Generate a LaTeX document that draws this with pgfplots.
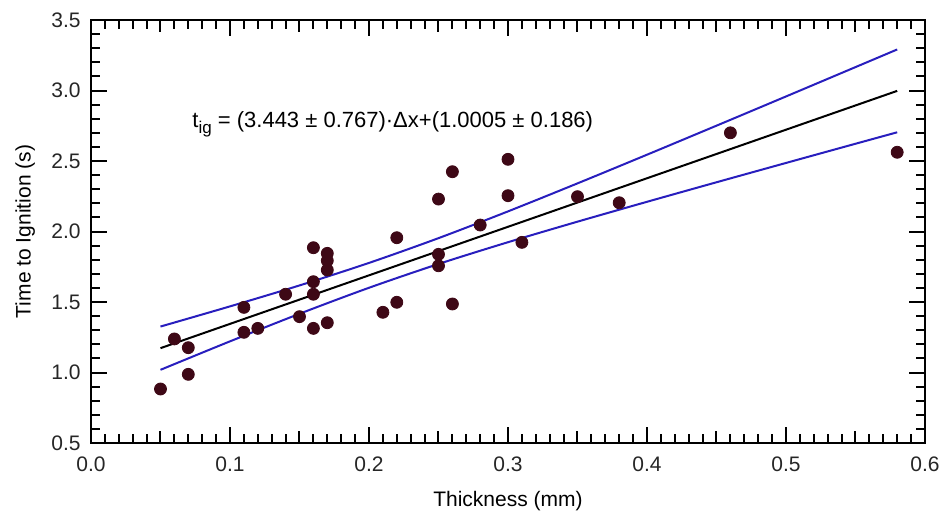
\documentclass[border=0pt]{standalone}
\usepackage{pgfplots}
\pgfplotsset{compat=1.18}
\usepackage{fontspec}
\setmainfont{Liberation Sans}
\definecolor{dotc}{RGB}{62,8,22}
\definecolor{bandc}{RGB}{40,30,190}
\begin{document}
\fontsize{10.5}{12}\selectfont
\begin{tikzpicture}
\path[use as bounding box] (0,0) rectangle (471.5pt,255pt);
\begin{axis}[
  at={(45.5pt,33.5pt)}, anchor=south west,
  scale only axis, width=417pt, height=211.5pt,
  xmin=0, xmax=0.6, ymin=0.5, ymax=3.5,
  xtick={0,0.1,0.2,0.3,0.4,0.5,0.6},
  ytick={0.5,1.0,1.5,2.0,2.5,3.0,3.5},
  minor x tick num=9, minor y tick num=4,
  extra x ticks={0.05,0.15,0.25,0.35,0.45,0.55},
  extra x tick labels={},
  extra x tick style={major tick length=6pt},
  tick align=inside,
  major tick length=8pt, minor tick length=4.5pt,
  every tick/.style={black, line width=1pt},
  axis line style={line width=1.2pt},
  /pgf/number format/assume math mode=true,
  /pgf/number format/.cd, fixed, fixed zerofill, precision=1, /pgfplots/.cd,
  tick label style={font=\fontsize{10.5}{12}\selectfont, color=black!85},
  xticklabel style={yshift=-3pt},
  yticklabel style={xshift=-1.5pt},
  label style={font=\fontsize{10.5}{12}\selectfont},
  xlabel={Thickness (mm)},
  ylabel={Time to Ignition (s)},
  xlabel style={at={(axis description cs:0.5,-0.137)}, anchor=center},
  ylabel style={at={(axis description cs:-0.079,0.50)}, anchor=center},
  clip=false,
]
\addplot[only marks, mark=*, mark size=3pt, color=dotc] coordinates {
(0.050,0.883) (0.060,1.238) (0.070,1.176) (0.070,0.987)
(0.110,1.462) (0.110,1.285) (0.120,1.313) (0.140,1.555)
(0.150,1.396) (0.160,1.885) (0.160,1.644) (0.160,1.555)
(0.160,1.313) (0.170,1.845) (0.170,1.793) (0.170,1.727)
(0.170,1.353) (0.210,1.427) (0.220,1.956) (0.220,1.498)
(0.250,2.230) (0.250,1.838) (0.250,1.757) (0.260,2.424)
(0.260,1.486) (0.280,2.046) (0.300,2.512) (0.300,2.254)
(0.310,1.923) (0.350,2.247) (0.380,2.204) (0.460,2.700)
(0.580,2.562)
};
\addplot[black, line width=1pt] coordinates {(0.05,1.1727) (0.58,2.9974)};
\addplot[bandc, line width=1pt, smooth] coordinates {
(0.05,1.326) (0.10,1.469) (0.15,1.6175) (0.20,1.7773) (0.25,1.9529)
(0.30,2.1427) (0.35,2.3414) (0.40,2.5447) (0.45,2.7506) (0.50,2.9578)
(0.55,3.1660) (0.58,3.2911)
};
\addplot[bandc, line width=1pt, smooth] coordinates {
(0.05,1.019) (0.10,1.221) (0.15,1.4165) (0.20,1.6009) (0.25,1.7697)
(0.30,1.9241) (0.35,2.0698) (0.40,2.2107) (0.45,2.3492) (0.50,2.4862)
(0.55,2.6224) (0.58,2.7037)
};
\node[anchor=base west, inner sep=0pt] at (axis cs:0.0727,2.741)
  {\fontsize{11}{13}\selectfont t\raisebox{-0.55ex}{\fontsize{8.5}{10}\selectfont ig} = (3.443 ± 0.767)·Δx+(1.0005 ± 0.186)};
\end{axis}
\end{tikzpicture}
\end{document}
